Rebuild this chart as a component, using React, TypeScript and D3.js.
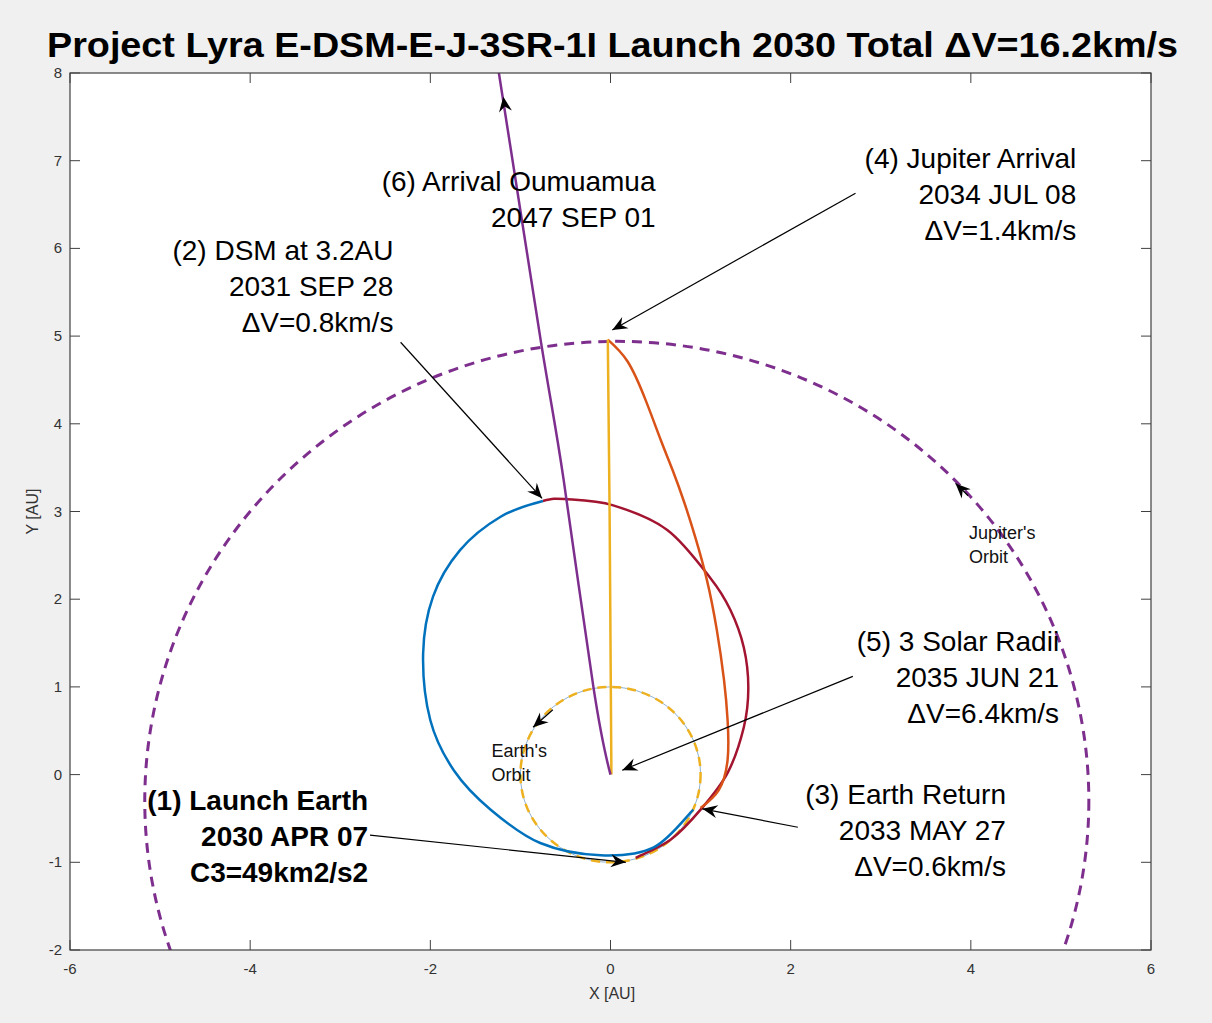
import * as d3 from 'd3';

// axis ticks
const xTicks = [-6, -4, -2, 0, 2, 4, 6];
const yTicks = [-2, -1, 0, 1, 2, 3, 4, 5, 6, 7, 8];

// trajectory legs [x, y] in AU
const launchToDsm: [number, number][] = [
  [0.28, -0.95], [0.67, -0.74], [1.0, -0.4], [1.3, 0.02], [1.48, 0.54], [1.53, 0.99],
  [1.48, 1.45], [1.33, 1.88], [1.11, 2.24], [0.63, 2.79], [0.03, 3.07], [-0.48, 3.14], [-0.75, 3.12],
];
const dsmToEarth: [number, number][] = [
  [-0.75, 3.12], [-1.22, 2.94], [-1.67, 2.56], [-1.97, 2.03], [-2.08, 1.38], [-2.0, 0.62],
  [-1.74, 0.05], [-1.33, -0.4], [-0.78, -0.78], [-0.11, -0.92], [0.48, -0.83], [0.92, -0.4],
];
const earthToJupiter: [number, number][] = [
  [1.0, -0.38], [1.2, -0.18], [1.3, 0.17], [1.3, 0.62], [1.26, 1.08], [1.18, 1.65],
  [1.07, 2.22], [0.94, 2.71], [0.82, 3.1], [0.69, 3.47], [0.56, 3.81], [0.39, 4.27], [0.19, 4.71], [-0.03, 4.96],
];
const jupiterToSun: [number, number][] = [[-0.03, 4.96], [-0.01, 3.0], [0.0, 1.5], [0.01, 0.0]];
const sunToOumuamua: [number, number][] = [[0.0, 0.0], [-0.19, 1.0], [-0.52, 3.36], [-0.77, 4.92], [-1.3, 8.4]];

// orbits: centre x, centre y, radius (AU)
const earthOrbit = [0, 0, 1];
const jupiterOrbit = [0.07, -0.3, 5.24];

const labels = [
  { x: 0.5, y: 6.65, anchor: 'end', bold: false, lines: ['(6) Arrival Oumuamua', '2047 SEP 01'] },
  { x: -2.41, y: 5.87, anchor: 'end', bold: false, lines: ['(2) DSM at 3.2AU', '2031 SEP 28', 'ΔV=0.8km/s'] },
  { x: 5.17, y: 6.92, anchor: 'end', bold: false, lines: ['(4) Jupiter Arrival', '2034 JUL 08', 'ΔV=1.4km/s'] },
  { x: 4.98, y: 1.41, anchor: 'end', bold: false, lines: ['(5) 3 Solar Radii', '2035 JUN 21', 'ΔV=6.4km/s'] },
  { x: 4.39, y: -0.34, anchor: 'end', bold: false, lines: ['(3) Earth Return', '2033 MAY 27', 'ΔV=0.6km/s'] },
  { x: -2.69, y: -0.4, anchor: 'end', bold: true, lines: ['(1) Launch Earth', '2030 APR 07', 'C3=49km2/s2'] },
];
const smallLabels = [
  { x: 3.98, y: 2.69, lines: ["Jupiter's", 'Orbit'] },
  { x: -1.32, y: 0.2, lines: ["Earth's", 'Orbit'] },
];

// annotation arrows: tail -> tip
const arrows = [
  { from: [-2.67, -0.69], to: [0.17, -1.0] },
  { from: [-2.33, 4.93], to: [-0.76, 3.15] },
  { from: [2.08, -0.6], to: [1.02, -0.39] },
  { from: [2.72, 6.63], to: [0.02, 5.07] },
  { from: [2.69, 1.12], to: [0.13, 0.05] },
  { from: [-0.64, 0.74], to: [-0.86, 0.54] },
  { from: [3.97, 3.18], to: [3.83, 3.32] },
];
// arrowhead only, on the outbound leg
const headOnly = { from: [-1.15, 7.45], to: [-1.19, 7.73] };

const W = 1212;
const H = 1023;
const left = 70, right = 1151, top = 73, bottom = 950;
const font = 'Liberation Sans, Arial, sans-serif';

const x = d3.scaleLinear().domain([-6, 6]).range([left, right]);
const y = d3.scaleLinear().domain([-2, 8]).range([bottom, top]);

const line = d3.line<[number, number]>()
  .x(d => x(d[0]))
  .y(d => y(d[1]))
  .curve(d3.curveNatural);

// catmull-rom through a chain, drawing only [from, to] but using neighbours across legs
function chainPath(chain: [number, number][], from: number, to: number) {
  const p = chain.map(d => [x(d[0]), y(d[1])]);
  const at = (i: number) => p[Math.max(0, Math.min(p.length - 1, i))];
  let s = `M${p[from][0]},${p[from][1]}`;
  for (let i = from; i < to; i++) {
    const p0 = at(i - 1), p1 = at(i), p2 = at(i + 1), p3 = at(i + 2);
    const c1 = [p1[0] + (p2[0] - p0[0]) / 6, p1[1] + (p2[1] - p0[1]) / 6];
    const c2 = [p2[0] - (p3[0] - p1[0]) / 6, p2[1] - (p3[1] - p1[1]) / 6];
    s += `C${c1[0]},${c1[1]},${c2[0]},${c2[1]},${p2[0]},${p2[1]}`;
  }
  return s;
}

function head(from: number[], to: number[]) {
  const x1 = x(from[0]), y1 = y(from[1]);
  const x2 = x(to[0]), y2 = y(to[1]);
  const a = Math.atan2(y2 - y1, x2 - x1);
  const len = 15, hw = 6.5, notch = 10;
  const ux = Math.cos(a), uy = Math.sin(a);
  const bx = x2 - ux * len, by = y2 - uy * len;
  const nx = x2 - ux * notch, ny = y2 - uy * notch;
  return `M${x2},${y2}L${bx - uy * hw},${by + ux * hw}L${nx},${ny}L${bx + uy * hw},${by - ux * hw}Z`;
}

export default function App() {
  const loop = [...launchToDsm, ...dsmToEarth.slice(1)];
  const n1 = launchToDsm.length - 1;
  const legs = [
    { d: chainPath(loop, 0, n1), c: '#A2142F' },
    { d: chainPath(loop, n1, loop.length - 1), c: '#0072BD' },
    { d: line(earthToJupiter) ?? '', c: '#D95319' },
    { d: line(jupiterToSun) ?? '', c: '#EDB120' },
    { d: line(sunToOumuamua) ?? '', c: '#7E2F8E' },
  ];
  const rx = (r: number) => x(r) - x(0);
  const ry = (r: number) => y(0) - y(r);

  return (
    <svg width={W} height={H} style={{ position: 'absolute', left: 0, top: 0 }} fontFamily={font}>
      <defs>
        <clipPath id="plot">
          <rect x={left} y={top} width={right - left} height={bottom - top} />
        </clipPath>
      </defs>
      <rect width={W} height={H} fill="#f0f0f0" />
      <rect x={left} y={top} width={right - left} height={bottom - top} fill="#fff" />

      <text x={612.5} y={57} textAnchor="middle" fontSize={35} fontWeight="bold" fill="#000"
        textLength={1131} lengthAdjust="spacingAndGlyphs">
        Project Lyra E-DSM-E-J-3SR-1I Launch 2030 Total ΔV=16.2km/s
      </text>

      <g clipPath="url(#plot)">
        <ellipse cx={x(earthOrbit[0])} cy={y(earthOrbit[1])} rx={rx(earthOrbit[2])} ry={ry(earthOrbit[2])}
          fill="none" stroke="#8fb2d0" strokeWidth={1} />
        <ellipse cx={x(earthOrbit[0])} cy={y(earthOrbit[1])} rx={rx(earthOrbit[2])} ry={ry(earthOrbit[2])}
          fill="none" stroke="#EDB120" strokeWidth={2.5} strokeDasharray="9 6" />
        <ellipse cx={x(jupiterOrbit[0])} cy={y(jupiterOrbit[1])} rx={rx(jupiterOrbit[2])} ry={ry(jupiterOrbit[2])}
          fill="none" stroke="#7E2F8E" strokeWidth={3} strokeDasharray="10 7" />
        {legs.map((l, i) => (
          <path key={i} d={l.d} fill="none" stroke={l.c} strokeWidth={2.5} />
        ))}
      </g>

      {/* axes box and ticks */}
      <rect x={left} y={top} width={right - left} height={bottom - top} fill="none" stroke="#404040" strokeWidth={1.2} />
      {xTicks.map(t => (
        <g key={'x' + t}>
          <line x1={x(t)} x2={x(t)} y1={bottom} y2={bottom - 10} stroke="#404040" />
          <line x1={x(t)} x2={x(t)} y1={top} y2={top + 10} stroke="#404040" />
          <text x={x(t)} y={bottom + 24} textAnchor="middle" fontSize={15} fill="#333">{t}</text>
        </g>
      ))}
      {yTicks.map(t => (
        <g key={'y' + t}>
          <line x1={left} x2={left + 10} y1={y(t)} y2={y(t)} stroke="#404040" />
          <line x1={right} x2={right - 10} y1={y(t)} y2={y(t)} stroke="#404040" />
          <text x={left - 8} y={y(t) + 5} textAnchor="end" fontSize={15} fill="#333">{t}</text>
        </g>
      ))}
      <text x={612} y={999} textAnchor="middle" fontSize={16} fill="#333">X [AU]</text>
      <text transform={`translate(38,${(top + bottom) / 2}) rotate(-90)`} textAnchor="middle" fontSize={16} fill="#333">Y [AU]</text>

      {/* annotation arrows */}
      {arrows.map((a, i) => (
        <g key={'a' + i}>
          <line x1={x(a.from[0])} y1={y(a.from[1])} x2={x(a.to[0])} y2={y(a.to[1])} stroke="#000" strokeWidth={1.2} />
          <path d={head(a.from, a.to)} fill="#000" />
        </g>
      ))}
      <path d={head(headOnly.from, headOnly.to)} fill="#000" />

      {labels.map((l, i) => (
        <text key={'l' + i} x={x(l.x)} y={y(l.y)} textAnchor={l.anchor as any} fontSize={28}
          fontWeight={l.bold ? 'bold' : 'normal'} fill="#000">
          {l.lines.map((s, j) => (
            <tspan key={j} x={x(l.x)} dy={j === 0 ? 0 : 36}>{s}</tspan>
          ))}
        </text>
      ))}
      {smallLabels.map((l, i) => (
        <text key={'s' + i} x={x(l.x)} y={y(l.y)} fontSize={18} fill="#111">
          {l.lines.map((s, j) => (
            <tspan key={j} x={x(l.x)} dy={j === 0 ? 0 : 24}>{s}</tspan>
          ))}
        </text>
      ))}
    </svg>
  );
}
